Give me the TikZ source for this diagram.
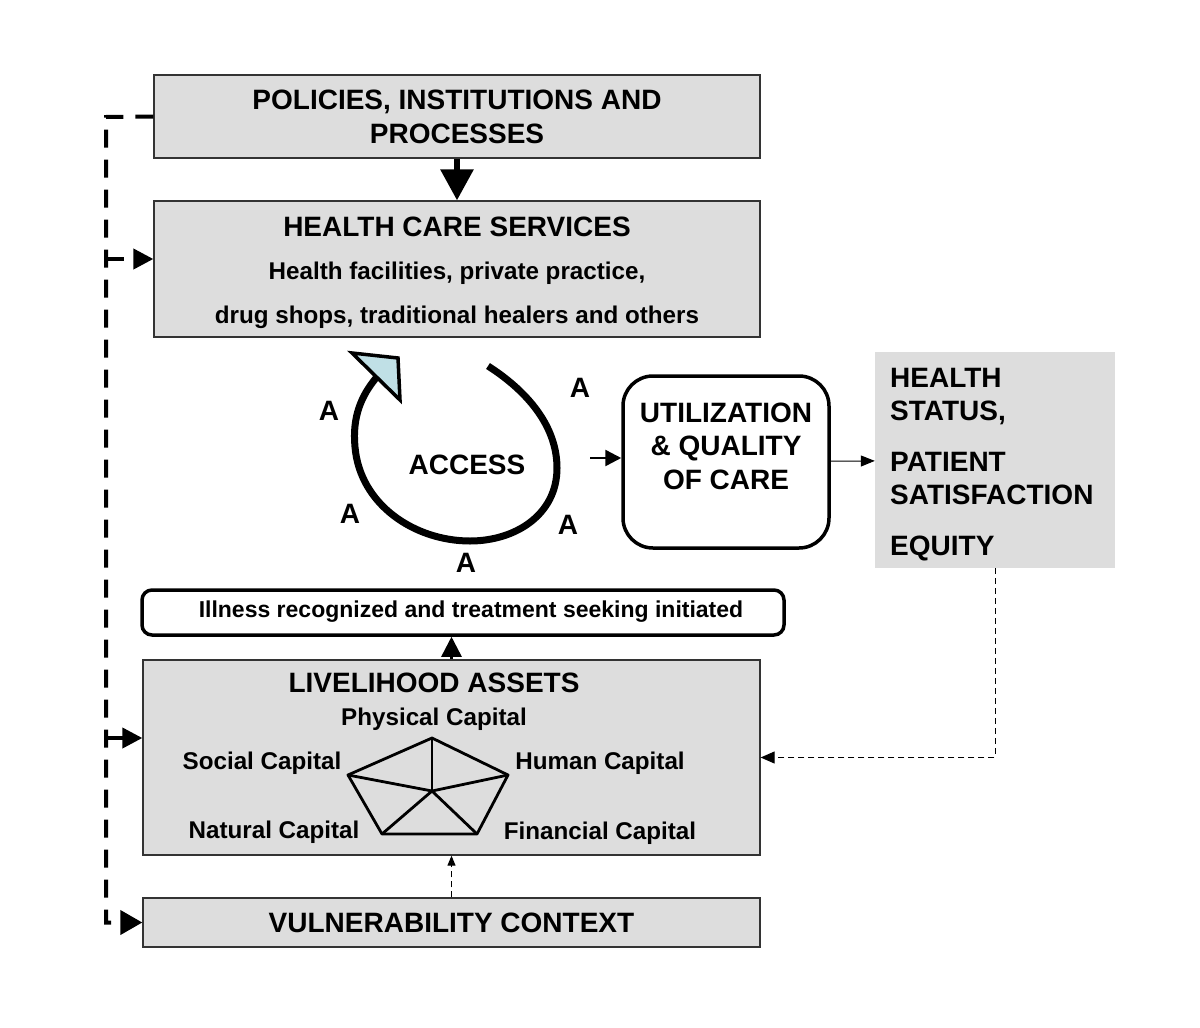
\documentclass[tikz,border=0pt]{standalone}
\usepackage{fontspec}
\setmainfont{Liberation Sans}
\usetikzlibrary{arrows.meta}
\definecolor{panelgray}{RGB}{221,221,221}
\definecolor{tipblue}{RGB}{192,224,230}

\begin{document}
\begin{tikzpicture}[x=1pt, y=-1pt,
                panel/.style={rectangle, draw=black!80, line width=1.3pt, fill=panelgray, inner sep=0pt},
                roundbox/.style={rectangle, draw=black, line width=3.5pt, fill=white, inner sep=0pt},
                heading/.style={font=\fontsize{28}{34}\selectfont\bfseries, align=center, inner sep=0pt},
                subtext/.style={font=\fontsize{24.2}{28}\selectfont\bfseries, inner sep=0pt},
                letter/.style={font=\fontsize{28}{34}\selectfont\bfseries, inner sep=0pt},
                bigarrow/.style={-{Triangle[length=31pt, width=32pt]}, line width=6pt},
                arrow/.style={-{Triangle[length=20pt, width=20pt]}, line width=2.5pt},
                thinarrow/.style={-{Triangle[length=14pt, width=11pt]}, line width=1pt},
                linkdash/.style={-{Triangle[length=20pt, width=20pt]}, line width=4pt, dash pattern=on 18pt off 12pt},
                feedback/.style={-{Triangle[length=14pt, width=12pt]}, line width=1pt, dash pattern=on 6pt off 4pt}
            ]
            \useasboundingbox (0,0) rectangle (1200,1028);

            % Policies and health care services
            \node[panel, minimum width=606, minimum height=83, heading] (policies) at (457,116.5) {POLICIES, INSTITUTIONS AND\\PROCESSES};
            \node[panel, minimum width=606, minimum height=136] (services) at (457,269) {};
            \node[heading, anchor=base] (servicestitle) at (457,236) {HEALTH CARE SERVICES};
            \node[subtext, anchor=base] (servicesline1) at (457,279.5) {Health facilities, private practice,};
            \node[subtext, anchor=base] (servicesline2) at (457,323.5) {drug shops, traditional healers and others};

            % Access loop
            \draw[line width=7pt] (488,366) .. controls (530,393) and (557,428) .. (557,468)
                .. controls (557,515) and (515,541) .. (470,541)
                .. controls (415,541) and (360,505) .. (355,447)
                .. controls (352,416) and (362,395) .. (376,378);
            \filldraw[fill=tipblue, line width=3.5pt, line join=miter] (352,353) -- (398,358) -- (400,400) -- cycle;
            \node[letter] (access) at (467,465) {ACCESS};
            \foreach \pos [count=\i] in {(329,411), (580,388), (350,514), (568,525), (466,563)}
                \node[letter] (a\i) at \pos {A};

            % Utilization and outcomes
            \node[roundbox, rounded corners=30pt, minimum width=206, minimum height=172] (utilization) at (726,462) {};
            \node[heading, font=\fontsize{28}{33.5}\selectfont\bfseries] (utiltext) at (726,446) {UTILIZATION\\\& QUALITY\\OF CARE};
            \node[rectangle, fill=panelgray, minimum width=240, minimum height=216, inner sep=0pt] (status) at (995,460) {};
            \node[heading, align=left, anchor=north west, font=\fontsize{28}{33}\selectfont\bfseries] (statustext) at (890,368) {HEALTH\\STATUS,\\[18pt]PATIENT\\SATISFACTION\\[18pt]EQUITY};

            \coordinate (accessout) at (590,458);
            \draw[arrow, -{Triangle[length=16pt, width=16pt]}] (accessout) -- (accessout -| utilization.west);
            \draw[thinarrow] (utilization) -- (status);

            % Illness and livelihood
            \node[roundbox, rounded corners=10pt, minimum width=642, minimum height=45] (illness) at (463,612.5) {};
            \node[font=\fontsize{23}{28}\selectfont\bfseries, inner sep=0pt] (illnesstext) at (471,612) {Illness recognized and treatment seeking initiated};
            \node[panel, minimum width=617, minimum height=195] (assets) at (451.5,757.5) {};
            \node[heading] (assetstitle) at (434,683) {LIVELIHOOD ASSETS};
            \node[subtext, anchor=base] (physical) at (434,725.5) {Physical Capital};
            \node[subtext, anchor=base] (social) at (262,769.5) {Social Capital};
            \node[subtext, anchor=base] (human) at (600,769.5) {Human Capital};
            \node[subtext, anchor=base] (natural) at (274,838.5) {Natural Capital};
            \node[subtext, anchor=base] (financial) at (600,839.5) {Financial Capital};

            % Pentagon of capitals
            \coordinate (pc) at (432,791);
            \coordinate (p1) at (432,738);
            \coordinate (p2) at (508,775);
            \coordinate (p3) at (477,834);
            \coordinate (p4) at (382,834);
            \coordinate (p5) at (348,775);
            \draw[line width=2.8pt, line join=round] (p1) -- (p2) -- (p3) -- (p4) -- (p5) -- cycle;
            \foreach \p in {p1,p2,p3,p4,p5}
                \draw[line width=2.8pt] (pc) -- (\p);

            \draw[arrow] (assets.north) -- (assets.north |- illness.south);

            % Vulnerability context
            \node[panel, minimum width=617, minimum height=49, heading] (vulnerability) at (451.5,922.5) {VULNERABILITY CONTEXT};
            \draw[feedback, -{Triangle[length=10pt, width=8pt]}] (vulnerability.north) -- (assets.south);

            % Feedback and influence lines
            \draw[feedback] (status.south) |- (assets.east);
            \coordinate (spine) at (106,117);
            \draw[linkdash, -{Triangle[length=22pt, width=24pt]}] (policies.west) -- (spine) |- (vulnerability.west);
            \coordinate (servicesbranch) at (106,259);
            \coordinate (assetsbranch) at (106,738);
            \draw[linkdash] (servicesbranch) -- (servicesbranch -| services.west);
            \draw[linkdash] (assetsbranch) -- (assetsbranch -| assets.west);
            \draw[bigarrow] (policies) -- (services);
        \end{tikzpicture}
\end{document}
